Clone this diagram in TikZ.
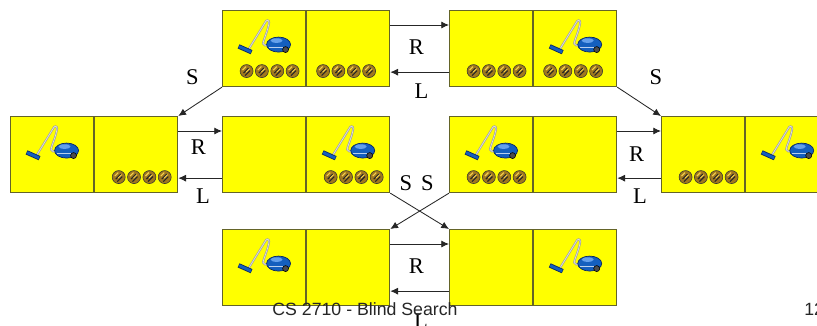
\documentclass[tikz,border=0pt]{standalone}
\usepackage{fontspec}
\setmainfont{Liberation Serif}
\newfontfamily\slidefont{Liberation Sans}
\usetikzlibrary{positioning}
\usetikzlibrary{calc,arrows.meta}

\definecolor{cellfill}{RGB}{255,255,0}
\definecolor{celledge}{RGB}{100,100,40}
\definecolor{vacblue}{RGB}{20,95,190}
\definecolor{vacdark}{RGB}{10,40,100}
\definecolor{vaclight}{RGB}{100,160,235}
\definecolor{dirtbrown}{RGB}{160,120,30}
\definecolor{dirtgold}{RGB}{245,210,80}

\begin{document}
\begin{tikzpicture}[x=0.025cm,y=-0.025cm]
\tikzstyle{cell}=[draw=celledge,fill=cellfill,line width=0.8pt,minimum width=2.075cm,minimum height=1.9cm,inner sep=0pt]
\tikzstyle{act}=[-{Latex[length=5.5pt,width=5pt]},draw=black!85,line width=0.6pt]
\tikzstyle{lbl}=[font=\fontsize{16}{19}\selectfont,inner sep=0pt]
\tikzstyle{foot}=[font=\slidefont\fontsize{12.6}{15}\selectfont,text=black!85,inner sep=0pt]
\tikzset{
  vacuum/.pic={
    % handle and hose
    \draw[gray!75,line width=1.4pt,line cap=round] (-15,0) -- (1,-26)
      .. controls (2,-29) and (5,-29) .. (5,-26)
      .. controls (4,-18) and (-1,-8) .. (-1,-5)
      .. controls (-1,-3) and (2,-3) .. (5,-3);
    \draw[gray!25,line width=0.5pt,line cap=round] (-15,0) -- (1,-26)
      .. controls (2,-29) and (5,-29) .. (5,-26)
      .. controls (4,-18) and (-1,-8) .. (-1,-5)
      .. controls (-1,-3) and (2,-3) .. (5,-3);
    % nozzle
    \draw[vacdark,line width=3.2pt] (-25.5,-2.2) -- (-12.5,3.6);
    \draw[vacblue,line width=2pt] (-25,-2) -- (-13,3.4);
    % body
    \filldraw[fill=vacblue,draw=vacdark,line width=0.5pt] (14.5,-4) ellipse (12 and 7.5);
    \fill[vaclight] (12.5,-8) ellipse (6 and 2.3);
    \draw[white!70!vacblue,line width=0.5pt] (5,-1) -- (22,-1);
    \filldraw[fill=black!70,draw=black] (21.5,1) circle (3);
  },
  dirt/.pic={
    \foreach \dx in {-23,-7.7,7.7,23} {
      \filldraw[fill=dirtbrown,draw=black!80,line width=0.4pt] (\dx+5.5,22.5) circle (6.5);
      \draw[black!85,line width=0.8pt] (\dx+2.5,24.5) -- (\dx+7.5,19.5);
      \draw[black!85,line width=0.8pt] (\dx+4,27) -- (\dx+9,22);
      \draw[dirtgold,line width=0.8pt] (\dx+1.5,21.5) -- (\dx+5,18);
      \draw[dirtgold,line width=0.6pt] (\dx+5,23.5) -- (\dx+8.5,20);
    }
  }
}
\path[use as bounding box,fill=white] (0,0) rectangle (817,325);
%%%%%%%%%%%%%%%%%%%%%%%%%%%%%%%%%%%%%%%%%%%%%%%%%%%%%%%%%%%%%%%%%%%%%%%%%%%%%%%%%%%%%%%%
%% Draw states
%%%%%%%%%%%%%%%%%%%%%%%%%%%%%%%%%%%%%%%%%%%%%%%%%%%%%%%%%%%%%%%%%%%%%%%%%%%%%%%%%%%%%%%%
% top row
\node[cell,anchor=north west] (t1l) at (222,10) {};
\node[cell,right=0pt of t1l] (t1r) {};
\node[cell,anchor=north west] (t2l) at (449,10) {};
\node[cell,right=0pt of t2l] (t2r) {};
% middle row
\node[cell,anchor=north west] (m1l) at (10,116) {};
\node[cell,right=0pt of m1l] (m1r) {};
\node[cell,anchor=north west] (m2l) at (222,116) {};
\node[cell,right=0pt of m2l] (m2r) {};
\node[cell,anchor=north west] (m3l) at (449,116) {};
\node[cell,right=0pt of m3l] (m3r) {};
\node[cell,anchor=north west] (m4l) at (661,116) {};
\node[cell,right=0pt of m4l] (m4r) {};
% bottom row
\node[cell,anchor=north west] (b1l) at (222,229) {};
\node[cell,right=0pt of b1l] (b1r) {};
\node[cell,anchor=north west] (b2l) at (449,229) {};
\node[cell,right=0pt of b2l] (b2r) {};

% vacuum and dirt in the cells
\pic at (t1l) {vacuum}; \pic at (t1l) {dirt};
\pic at ([xshift=-0.19cm]t1r) {dirt};
\pic at (t2l) {dirt};
\pic at (t2r) {vacuum}; \pic at ([xshift=-0.19cm]t2r) {dirt};
\pic at (m1l) {vacuum}; \pic at (m1r) {dirt};
\pic at (m2r) {vacuum}; \pic at (m2r) {dirt};
\pic at (m3l) {vacuum}; \pic at (m3l) {dirt};
\pic at (m4l) {dirt}; \pic at (m4r) {vacuum};
\pic at (b1l) {vacuum};
\pic at (b2r) {vacuum};
%%%%%%%%%%%%%%%%%%%%%%%%%%%%%%%%%%%%%%%%%%%%%%%%%%%%%%%%%%%%%%%%%%%%%%%%%%%%%%%%%%%%%%%%

%%%%%%%%%%%%%%%%%%%%%%%%%%%%%%%%%%%%%%%%%%%%%%%%%%%%%%%%%%%%%%%%%%%%%%%%%%%%%%%%%%%%%%%%
%%% Draw actions
%%%%%%%%%%%%%%%%%%%%%%%%%%%%%%%%%%%%%%%%%%%%%%%%%%%%%%%%%%%%%%%%%%%%%%%%%%%%%%%%%%%%%%%%
% suck
\draw[act] (t1l.south west) -- (m1r.north east);
\draw[act] (t2r.south east) -- (m4l.north west);
\draw[act] (m2r.south east) -- (b2l.north west);
\draw[act] (m3l.south west) -- (b1r.north east);
% right / left
\draw[act] ($(t1r.north east)+(0,15)$) -- ($(t2l.north west)+(0,15)$);
\draw[act] ($(t2l.south west)+(0,-15)$) -- ($(t1r.south east)+(0,-15)$);
\draw[act] ($(m1r.north east)+(0,15)$) -- ($(m2l.north west)+(0,15)$);
\draw[act] ($(m2l.south west)+(0,-15)$) -- ($(m1r.south east)+(0,-15)$);
\draw[act] ($(m3r.north east)+(0,15)$) -- ($(m4l.north west)+(0,15)$);
\draw[act] ($(m4l.south west)+(0,-15)$) -- ($(m3r.south east)+(0,-15)$);
\draw[act] ($(b1r.north east)+(0,15)$) -- ($(b2l.north west)+(0,15)$);
\draw[act] ($(b2l.south west)+(0,-15)$) -- ($(b1r.south east)+(0,-15)$);

% labels
\node[lbl] (s1) at (192.5,77) {S};
\node[lbl] (s2) at (656,77) {S};
\node[lbl] (s3) at (406,183) {S};
\node[lbl] (s4) at (427.5,183) {S};
\node[lbl] (r1) at (416.5,47.5) {R};
\node[lbl] (l1) at (421.5,91) {L};
\node[lbl] (r2) at (198.5,147.5) {R};
\node[lbl] (l2) at (203,196) {L};
\node[lbl] (r3) at (636.5,154.5) {R};
\node[lbl] (l3) at (640,196) {L};
\node[lbl] (r4) at (416.5,266.5) {R};
\node[lbl] (l4) at (421,321) {L};
%%%%%%%%%%%%%%%%%%%%%%%%%%%%%%%%%%%%%%%%%%%%%%%%%%%%%%%%%%%%%%%%%%%%%%%%%%%%%%%%%%%%%%%%

% footer
\node[foot] (title) at (365,309) {CS 2710 - Blind Search};
\node[foot,anchor=west] (page) at (804,309) {12};
\end{tikzpicture}
\end{document}
